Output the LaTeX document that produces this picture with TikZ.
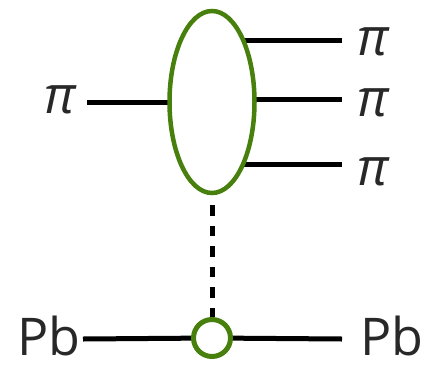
\documentclass[tikz,border=0pt]{standalone}
\usepackage{fontspec}
\setmainfont{Open Sans}
\usetikzlibrary{shapes.geometric,backgrounds}
\definecolor{blobgreen}{RGB}{72,128,14}
\definecolor{txt}{RGB}{40,40,40}
\begin{document}
\begin{tikzpicture}[x=1pt,y=-1pt,
  lbl/.style={anchor=base,inner sep=0pt,text=txt,font=\fontsize{52}{58}\selectfont},
  pilbl/.style={lbl,font=\fontsize{52}{58}\selectfont\itshape},
  leg/.style={line width=5pt,black},
  blob/.style={ellipse,draw=blobgreen,line width=4.5pt,fill=white,minimum width=85pt,minimum height=182pt,inner sep=0pt},
  vtx/.style={circle,draw=blobgreen,line width=5pt,fill=white,minimum size=37pt,inner sep=0pt},
  exch/.style={line width=5pt,black,dash pattern=on 10.5pt off 10pt}]
\useasboundingbox (0,0) rectangle (422,364);
\node[blob] (ell) at (212,102) {};
\node[vtx] (circ) at (212,338) {};
\node[pilbl] (pin) at (60.5,113) {π};
\node[pilbl] (po1) at (373,55) {π};
\node[pilbl] (po2) at (373,116) {π};
\node[pilbl] (po3) at (373,185) {π};
\node[lbl] (pbin) at (49,355) {Pb};
\node[lbl] (pbout) at (392,355) {Pb};
\coordinate (a0) at (87,102);
\coordinate (a1) at (342,40);
\coordinate (a2) at (342,99.5);
\coordinate (a3) at (342,164);
\coordinate (b0) at (83,339);
\coordinate (b1) at (342,339);
\begin{scope}[on background layer]
\draw[leg] (a0) -- (a0 -| ell.center);
\draw[leg] (a1) -- (a1 -| ell.center);
\draw[leg] (a2) -- (a2 -| ell.center);
\draw[leg] (a3) -- (a3 -| ell.center);
\draw[leg] (b0) -- (circ.center) -- (b1);
\end{scope}
\draw[exch] ([yshift=-10pt]ell.south) -- (circ.north);
\end{tikzpicture}
\end{document}
